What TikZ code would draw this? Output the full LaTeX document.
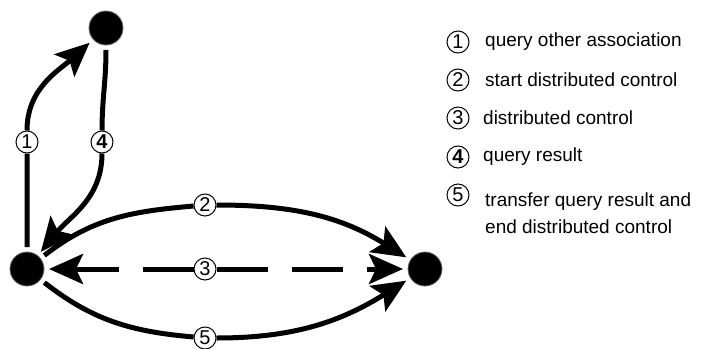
\documentclass[tikz,border=0pt]{standalone}
\usepackage{fontspec}
\setmainfont{Liberation Sans}
\usetikzlibrary{arrows.meta}
\tikzset{etat/.style={circle,fill=black,draw=black!60,line width=0.8pt,minimum size=34pt,inner sep=0pt,outer sep=5pt},
numero/.style={circle,draw,fill=white,line width=1pt,minimum size=22pt,inner sep=0pt,font=\fontsize{20}{20}\selectfont},
fleche/.style={line width=5pt,-{Stealth[length=34pt,width=30pt,inset=7pt]}},
legende/.style={anchor=west,inner sep=0pt,align=left,font=\fontsize{19}{27}\selectfont}}

\begin{document}
\begin{tikzpicture}[x=1pt,y=1pt]
\useasboundingbox (0,0) rectangle (701,-348);
\node [etat] (haut) at (106,-28) {};
\node [etat] (gauche) at (27,-269) {};
\node [etat] (droite) at (425,-269) {};
\node [numero] (n1) at (27,-142) {1};
\node [numero] (n4) at (102,-142) {\textbf{4}};
\node [numero] (n2) at (205,-205) {2};
\node [numero] (n3) at (205,-269) {3};
\node [numero] (n5) at (205,-338) {5};
\draw [fleche] (gauche) to[out=90,in=270] (n1) to[out=90,in=222] (haut);
\draw [fleche] (haut) to[out=270,in=90] (n4) to[out=270,in=51] (gauche);
\draw [fleche] (gauche) to[out=38,in=185] (n2) to[out=0,in=148] (droite);
\draw [fleche] (gauche) to[out=-38,in=175] (n5) to[out=0,in=212] (droite);
\draw [fleche,dash pattern=on 51pt off 24pt] (n3) -- (gauche);
\draw [fleche,dash pattern=on 51pt off 24pt] (n3) -- (droite);
\node [numero] (c1) at (458,-42) {1};
\node [legende] (t1) at (485,-42) {query other association};
\node [numero] (c2) at (458,-80) {2};
\node [legende] (t2) at (485,-80) {start distributed control};
\node [numero] (c3) at (458,-118) {3};
\node [legende] (t3) at (483,-118) {distributed control};
\node [numero] (c4) at (458,-157) {\textbf{4}};
\node [legende] (t4) at (483,-157) {query result};
\node [numero] (c5) at (458,-195) {5};
\node [legende] (t5) at (485,-213) {transfer query result and\\end distributed control};
\end{tikzpicture}
\end{document}
